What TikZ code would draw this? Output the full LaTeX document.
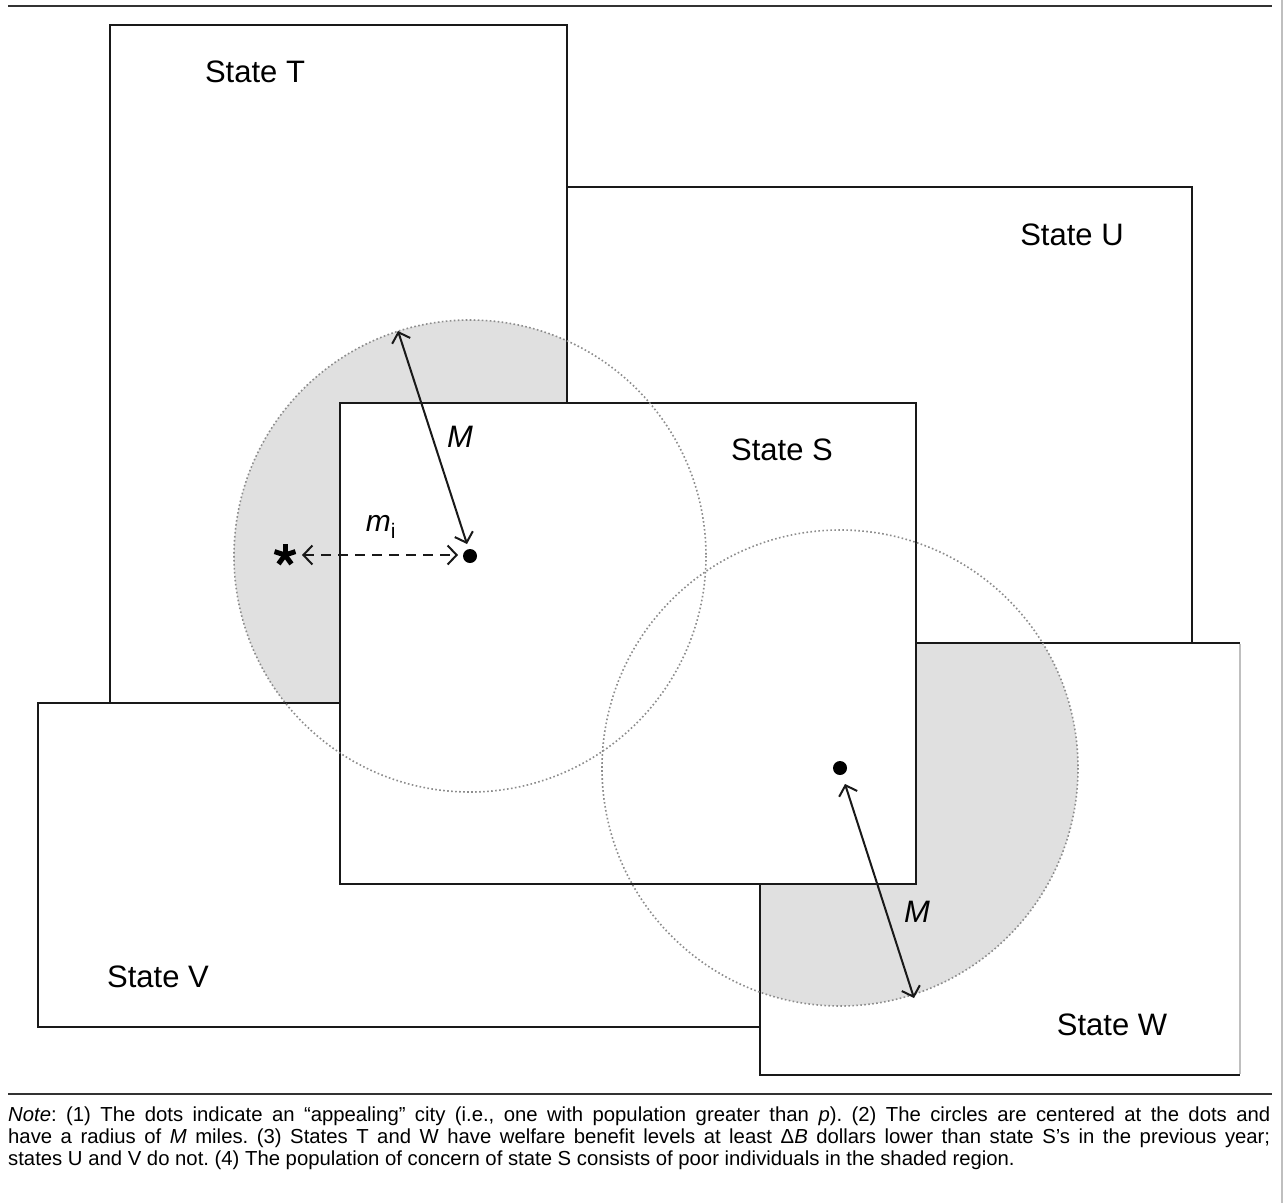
\documentclass[tikz,border=0pt]{standalone}
\usepackage{fontspec}
\setmainfont{Liberation Sans}
\usetikzlibrary{arrows.meta}
\frenchspacing
\begin{document}
\begin{tikzpicture}[x=1pt,y=-1pt,
  box/.style={line width=2pt, draw=black!90},
  ring/.style={draw=black!45, line width=1.6pt, dash pattern=on 1.6pt off 2.4pt},
  shade/.style={fill=black!12},
  lab/.style={font=\fontsize{31}{31}\selectfont, inner sep=0pt},
  dimarr/.style={line width=2pt, draw=black!90, {Straight Barb[length=9pt,width=19pt]}-{Straight Barb[length=9pt,width=19pt]}},
  rule/.style={line width=2pt, draw=black!80},
  capline/.style={anchor=base west, inner sep=0pt, font=\fontsize{20.3}{22}\selectfont},
]
\useasboundingbox (0,0) rectangle (1283,1203);
\fill[white] (0,0) rectangle (1283,1203);

% centres of the circles
\coordinate (c1) at (470,556);
\coordinate (c2) at (840,768);

% shaded region (population of concern)
\begin{scope}
  \clip (110,25) rectangle (567,703);
  \fill[shade] (c1) circle[radius=236];
\end{scope}
\begin{scope}
  \clip (760,643) rectangle (1240,1075);
  \fill[shade] (c2) circle[radius=238];
\end{scope}

% rules and edge
\draw[rule] (8,6) -- (1272,6);
\draw[rule] (8,1094) -- (1272,1094);
\draw[line width=1.5pt, black!25] (1282,0) -- (1282,1203);

% states
\draw[box] (110,25) rectangle (567,703);
\draw[box] (567,187) rectangle (1192,643);
\draw[box] (38,703) rectangle (760,1027);
\draw[box] (1240,643) -- (760,643) -- (760,1075) -- (1240,1075);
\draw[line width=2pt, black!25] (1240,644) -- (1240,1074);
\draw[box, fill=white] (340,403) rectangle (916,884);

% circles
\draw[ring] (c1) circle[radius=236];
\draw[ring] (c2) circle[radius=238];

% labels
\node[lab] (lT) at (255,72) {State T};
\node[lab] (lU) at (1072,235) {State U};
\node[lab] (lS) at (782,450) {State S};
\node[lab] (lV) at (158,977) {State V};
\node[lab] (lW) at (1112,1025) {State W};

% radius arrows
\coordinate (m1a) at (398,331);
\coordinate (m1b) at (467,544);
\draw[dimarr] (m1a) -- (m1b);
\node[lab] (M1) at (460,437) {\textit{M}};

\coordinate (m2a) at (845,784);
\coordinate (m2b) at (914,998);
\draw[dimarr] (m2a) -- (m2b);
\node[lab] (M2) at (917,912) {\textit{M}};

% distance m_i
\coordinate (ast) at (285,555);
\coordinate (dl) at (302,555);
\coordinate (dr) at (458,555);
\draw[dimarr, dash pattern=on 10pt off 7pt] (dl) -- (dr);
\node[font=\fontsize{30}{30}\selectfont, inner sep=0pt] (mi) at (381,527) {\textit{m}\textsubscript{i}};
\foreach \a in {270,198,342,126,54}
  \draw[line width=5pt, black] (ast) -- ++(\a:11);

% dots
\fill[black] (c1) circle[radius=7];
\fill[black] (c2) circle[radius=7];

% caption
\node[capline] (cap1) at (8,1121) {\makebox[1262pt][s]{\textit{Note}: (1) The dots indicate an “appealing” city (i.e., one with population greater than \textit{p}). (2) The circles are centered at the dots and}};
\node[capline] (cap2) at (8,1143) {\makebox[1262pt][s]{have a radius of \textit{M} miles. (3) States T and W have welfare benefit levels at least Δ\textit{B} dollars lower than state S’s in the previous year;}};
\node[capline] (cap3) at (8,1165) {states U and V do not. (4) The population of concern of state S consists of poor individuals in the shaded region.};
\end{tikzpicture}
\end{document}
